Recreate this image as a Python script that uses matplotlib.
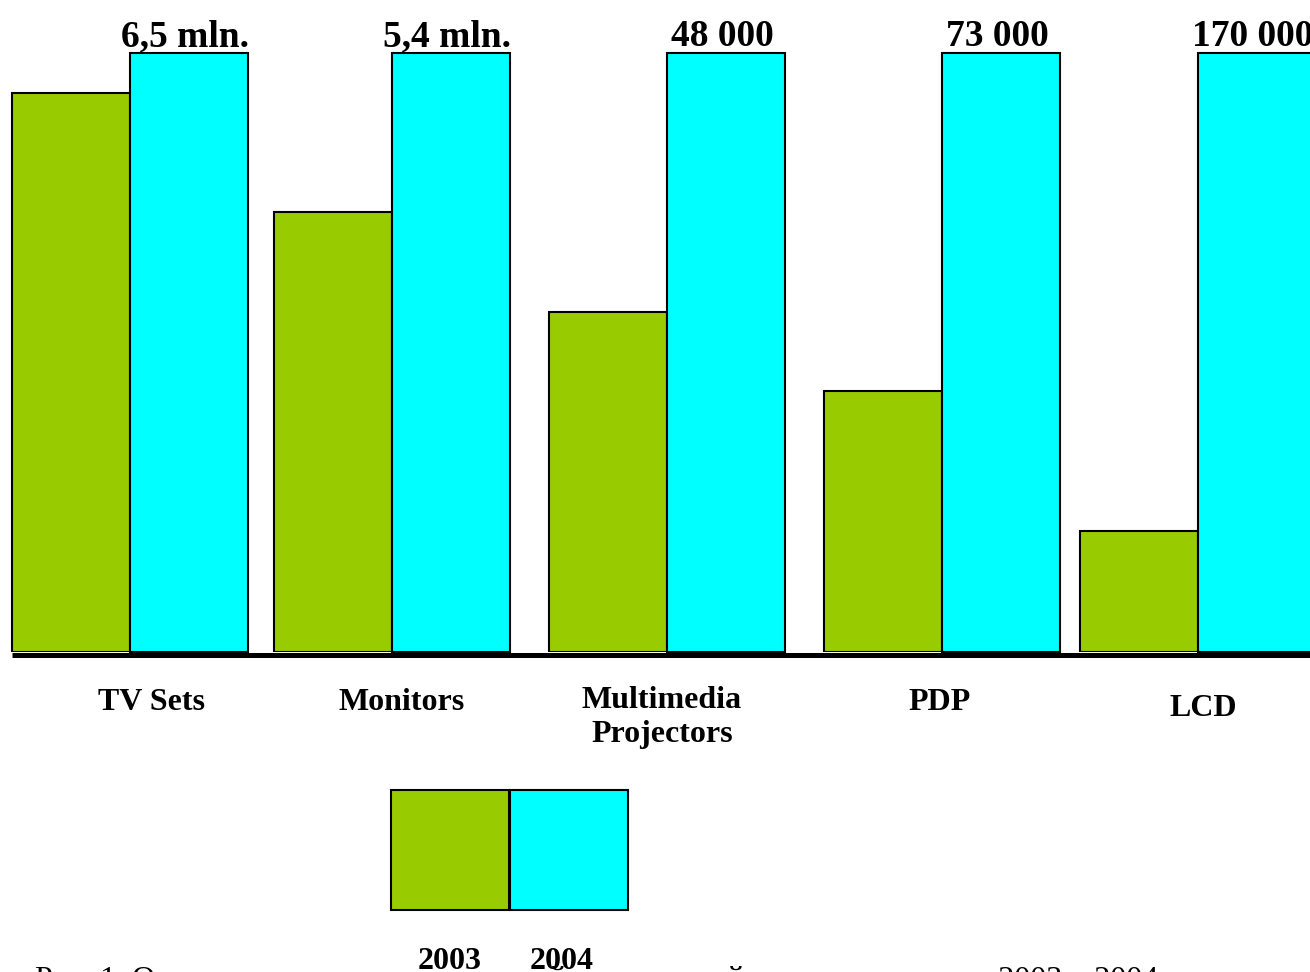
import matplotlib
matplotlib.use("Agg")
import matplotlib.pyplot as plt
import matplotlib.transforms as mtransforms
from matplotlib.patches import Rectangle

# data (2004 bar = 100 %)
categories = ["TV Sets", "Monitors", "Multimedia\nProjectors", "PDP", "LCD"]
years = ["2003", "2004"]
sales_2003 = [93.3, 73.5, 56.8, 43.6, 20.2]
sales_2004 = [100.0, 100.0, 100.0, 100.0, 100.0]
volume_2004 = ["6,5 mln.", "5,4 mln.", "48 000", "73 000", "170 000"]
caption = "Рис. 1. Оценка спроса на рынке устройств экранной техники в период 2003 – 2004 гг."

# layout (pixels of a 1310x972 canvas)
W, H = 1310, 972
group_x = [130, 392, 667, 942, 1198]      # border between the two bars
label_x = [152, 402, 662, 940, 1203]
label_y = [710, 710, 742, 710, 716]       # baseline of the last line
bar_w = 118
green = "#99CC00"
cyan = "#00FFFF"
serif = ["Liberation Serif", "DejaVu Serif"]

fig = plt.figure(figsize=(W / 100, H / 100), dpi=100)
fig.patch.set_facecolor("white")

# bar axes: y=0 at pixel 652, y=100 at pixel 53
ax = fig.add_axes([0, (H - 652) / H, 1, 599 / H])
ax.set_xlim(0, W)
ax.set_ylim(0, 100)
ax.axis("off")

ax.bar([x - bar_w / 2 for x in group_x], sales_2003, width=bar_w,
       color=green, edgecolor="black", linewidth=1.5, zorder=2)
ax.bar([x + bar_w / 2 for x in group_x], sales_2004, width=bar_w,
       color=cyan, edgecolor="black", linewidth=1.5, zorder=2, clip_on=False)

for x, v, t in zip(group_x, sales_2004, volume_2004):
    ax.annotate(t, (x + bar_w / 2 - 4, v), xytext=(0, 7), textcoords="offset pixels",
                ha="center", va="baseline", fontsize=27, fontweight="bold",
                family=serif, annotation_clip=False)

# thick base line, a bit below the bar bottoms
base_tr = mtransforms.offset_copy(ax.transData, fig=fig, x=0, y=-2.5, units="dots")
ax.plot([12, W], [0, 0], color="black", lw=3.6, transform=base_tr,
        solid_capstyle="butt", zorder=3, clip_on=False)

# overlay in pixel coordinates for labels, legend and caption
ov = fig.add_axes([0, 0, 1, 1], zorder=-1)
ov.set_xlim(0, W)
ov.set_ylim(H, 0)
ov.axis("off")

for x, y, name in zip(label_x, label_y, categories):
    ov.text(x, y, name, ha="center", va="baseline", fontsize=23,
            fontweight="bold", family=serif, linespacing=1.25)

# legend: two squares side by side, years below
leg_x = [391, 510]
year_x = [450, 562]
for x, tx, c, yr in zip(leg_x, year_x, [green, cyan], years):
    ov.add_patch(Rectangle((x, 790), 118, 120, facecolor=c, edgecolor="black", lw=1.5))
    ov.text(tx, 969, yr, ha="center", va="baseline", fontsize=23,
            fontweight="bold", family=serif)

# figure caption, mostly below the lower edge as in the source
ov.text(35, 988, caption, ha="left", va="baseline", fontsize=23, family=serif)

fig.savefig("out.png", dpi=100)
